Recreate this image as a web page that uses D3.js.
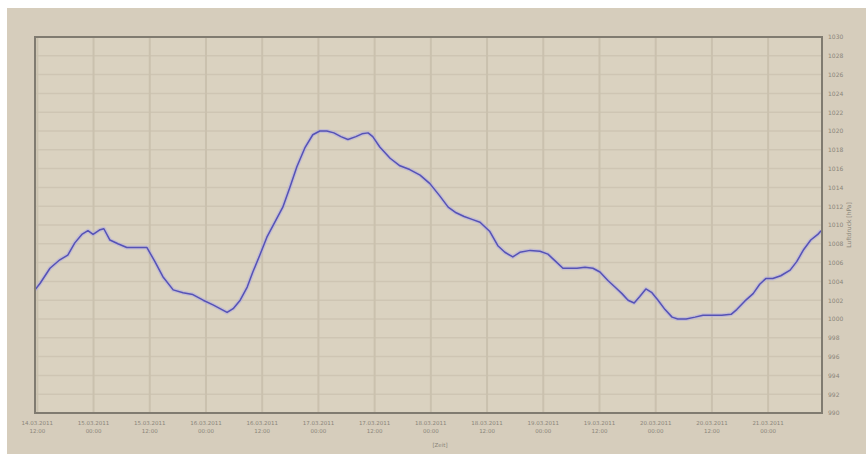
<!DOCTYPE html>
<html>
<head>
<meta charset="utf-8">
<script src="https://cdn.jsdelivr.net/npm/d3@7"></script>
<style>
  body { margin: 0; background: #fff; }
  text { font-family: "DejaVu Sans", sans-serif; }
</style>
</head>
<body>
<svg id="chart" width="866" height="455"></svg>
<script>
// hours since 14.03.2011 11:30
var hours = [0, 1.1, 3.2, 5.3, 7.0, 8.5, 10.0, 11.3, 12.4, 13.9, 14.7, 16.0, 17.7, 19.6, 21.8, 23.9,
  25.6, 27.3, 29.5, 31.6, 33.7, 35.9, 38.0, 39.9, 41.0, 42.3, 43.8, 45.3, 46.5, 48.0, 49.5,
  51.2, 52.9, 54.4, 55.9, 57.6, 59.3, 60.8, 62.3, 63.8, 65.3, 66.8, 68.5, 69.8, 71.1, 72.1,
  73.6, 75.8, 77.9, 80.0, 82.2, 84.3, 86.4, 88.2, 89.9, 91.6, 93.3, 95.0, 97.1, 98.8, 100.3,
  102.0, 103.5, 105.7, 107.8, 109.5, 111.2, 112.7, 114.2, 115.7, 117.4, 119.1, 120.6, 122.3,
  123.8, 125.3, 126.6, 127.9, 129.1, 130.4, 131.7, 133.0, 134.5, 136.0, 137.2, 139.0, 140.9,
  142.6, 144.5, 146.6, 148.6, 149.8, 151.5, 153.3, 154.7, 156.0, 157.5, 159.2, 161.2, 162.6,
  164.1, 165.6, 167.1, 167.8];

// air pressure, hPa
var pressure = [1003.1, 1003.8, 1005.4, 1006.3, 1006.8, 1008.1, 1009.0, 1009.4, 1009.0, 1009.5,
  1009.6, 1008.4, 1008.0, 1007.6, 1007.6, 1007.6, 1006.1, 1004.5, 1003.1, 1002.8, 1002.6,
  1002.0, 1001.5, 1001.0, 1000.7, 1001.1, 1002.0, 1003.4, 1005.0, 1006.8, 1008.7, 1010.3,
  1011.9, 1014.0, 1016.2, 1018.2, 1019.6, 1020.0, 1020.0, 1019.8, 1019.4, 1019.1, 1019.4,
  1019.7, 1019.8, 1019.4, 1018.3, 1017.1, 1016.3, 1015.9, 1015.3, 1014.4, 1013.1, 1011.9,
  1011.3, 1010.9, 1010.6, 1010.3, 1009.3, 1007.8, 1007.1, 1006.6, 1007.1, 1007.3, 1007.2,
  1006.9, 1006.1, 1005.4, 1005.4, 1005.4, 1005.5, 1005.4, 1005.0, 1004.1, 1003.4, 1002.7,
  1002.0, 1001.7, 1002.4, 1003.2, 1002.8, 1002.0, 1001.0, 1000.2, 1000.0, 1000.0, 1000.2,
  1000.4, 1000.4, 1000.4, 1000.5, 1001.0, 1001.9, 1002.7, 1003.7, 1004.3, 1004.3, 1004.6,
  1005.2, 1006.1, 1007.4, 1008.4, 1009.0, 1009.4];

var yTicks = d3.range(990, 1031, 2);
var startTime = new Date(2011, 2, 14, 11, 30);
var endTime = new Date(2011, 2, 21, 11, 30);
var xLabelTimes = d3.range(0, 14).map(function(i){ return new Date(2011, 2, 14, 12 + i * 12, 0); });

var svg = d3.select("#chart");
var plotL = 35, plotR = 822, plotT = 37, plotB = 413;

svg.append("rect").attr("x", 7).attr("y", 8).attr("width", 859).attr("height", 446)
  .style("fill", "#d6cdbc");
svg.append("rect").attr("x", plotL).attr("y", plotT).attr("width", plotR - plotL).attr("height", plotB - plotT)
  .style("fill", "#dad2c0");

var x = d3.scaleTime().domain([startTime, endTime]).range([plotL, plotR]);
var y = d3.scaleLinear().domain([990, 1030]).range([plotB, plotT]);

var data = hours.map(function(h, i){
  return { t: new Date(startTime.getTime() + h * 3600000), p: pressure[i] };
});

// grid
var grid = svg.append("g");
grid.selectAll("line.h").data(yTicks).enter().append("line")
  .attr("x1", plotL).attr("x2", plotR)
  .attr("y1", function(d){ return y(d); }).attr("y2", function(d){ return y(d); })
  .style("stroke", "#cec5b3").style("stroke-width", 1.5);
grid.selectAll("line.v").data(xLabelTimes).enter().append("line")
  .attr("x1", function(d){ return x(d); }).attr("x2", function(d){ return x(d); })
  .attr("y1", plotT).attr("y2", plotB)
  .style("stroke", "#cac1ae").style("stroke-width", 2);

// line with soft halo (the original is blurry)
var line = d3.line().x(function(d){ return x(d.t); }).y(function(d){ return y(d.p); });
svg.append("path").datum(data).attr("d", line)
  .style("fill", "none").style("stroke", "#b0acdf").style("stroke-width", 4).style("opacity", 0.55)
  .style("stroke-linejoin", "round");
svg.append("path").datum(data).attr("d", line)
  .style("fill", "none").style("stroke", "#5552b6").style("stroke-width", 1.5)
  .style("stroke-linejoin", "round");

// frame
svg.append("path")
  .attr("d", "M" + plotL + "," + plotT + "H" + plotR + "V" + plotB + "H" + plotL + "Z")
  .style("fill", "none").style("stroke", "#807b70").style("stroke-width", 2);

// right axis
var yAxis = d3.axisRight(y).tickValues(yTicks).tickSize(0).tickPadding(6).tickFormat(d3.format("d"));
var ya = svg.append("g").attr("transform", "translate(" + plotR + ",0)").call(yAxis);
ya.select(".domain").remove();
ya.selectAll("text").style("font-size", "6px").style("fill", "#8a857a");

svg.append("text")
  .attr("transform", "translate(851,225) rotate(-90)")
  .attr("text-anchor", "middle")
  .style("font-size", "6px").style("fill", "#8a857a")
  .text("Luftdruck [hPa]");

// bottom axis, two-line labels
var fmtDate = d3.timeFormat("%d.%m.%Y"), fmtHour = d3.timeFormat("%H:%M");
var xl = svg.append("g").selectAll("text").data(xLabelTimes).enter().append("text")
  .attr("x", function(d){ return x(d); })
  .attr("y", 425)
  .attr("text-anchor", "middle")
  .style("font-size", "5.5px").style("fill", "#8a857a");
xl.append("tspan").attr("x", function(d){ return x(d); }).text(function(d){ return fmtDate(d); });
xl.append("tspan").attr("x", function(d){ return x(d); }).attr("dy", 8).text(function(d){ return fmtHour(d); });

svg.append("text").attr("x", 440).attr("y", 447).attr("text-anchor", "middle")
  .style("font-size", "5.5px").style("fill", "#8a857a").text("[Zeit]");
</script>
</body>
</html>
